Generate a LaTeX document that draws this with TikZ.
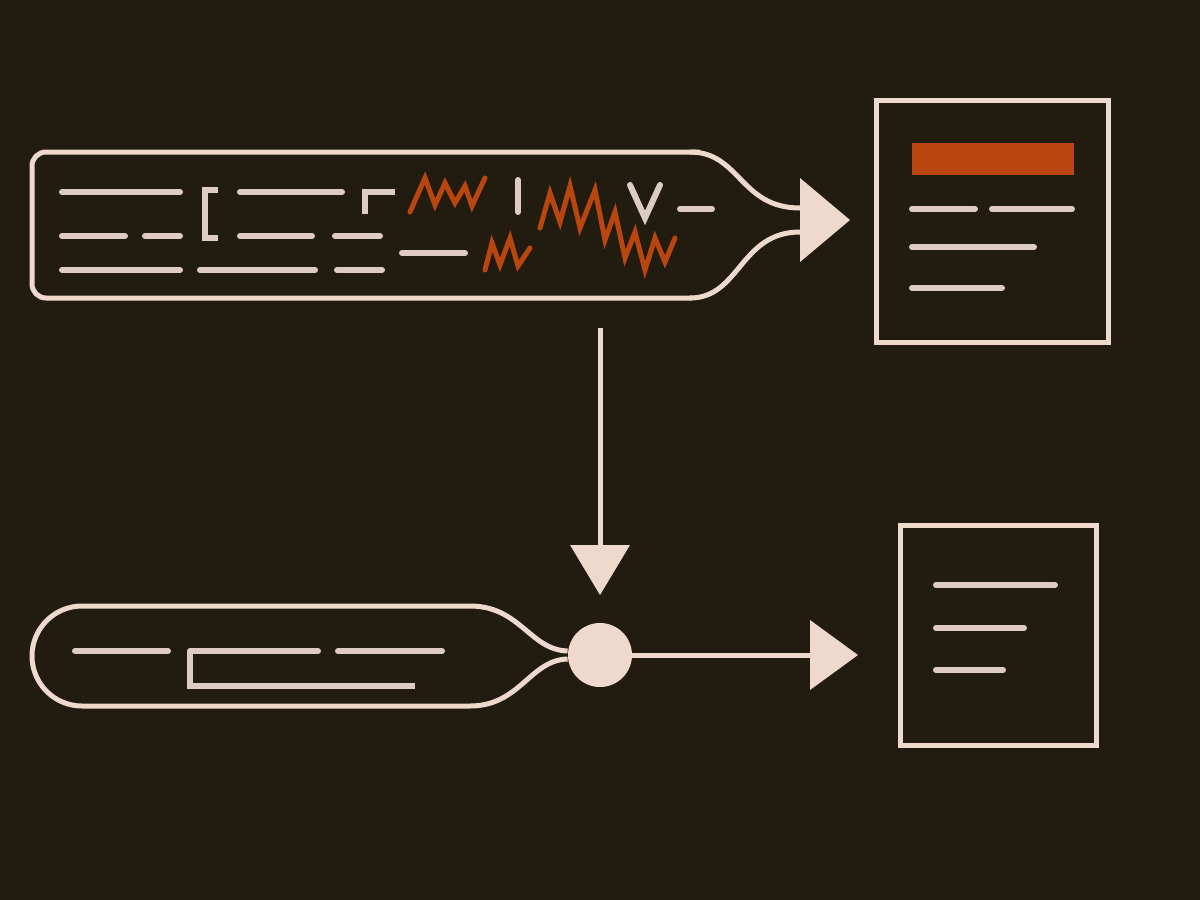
\documentclass[tikz,border=0pt]{standalone}
\usetikzlibrary{positioning}
\definecolor{bgc}{HTML}{211C0F}
\definecolor{pale}{HTML}{EFD8CC}
\definecolor{rust}{HTML}{B9460F}
\begin{document}
\begin{tikzpicture}[x=0.5pt,y=-0.5pt,
  outline/.style={pale,line width=2.5pt,line join=round},
  bar/.style={pale!85!gray,line width=3pt,line cap=round},
  zig/.style={rust,line width=2.5pt,line join=miter,line cap=round},
  tip/.style={pale,fill=pale}]
  \fill[bgc] (0,0) rectangle (1200,900);
  % top pipe
  \draw[outline,rounded corners=7pt] (700,152) -- (32,152) -- (32,298) -- (692,298);
  \draw[outline] (690,298) .. controls (740,298) and (740,232) .. (800,232);
  \draw[outline] (690,152) .. controls (740,152) and (740,208) .. (800,208);
  \coordinate (topin) at (800,220);
  \fill[tip] (800,178) -- (850,220) -- (800,262) -- cycle;
  % text lines in pipe
  \foreach \xa/\xb/\y in {62/180/192, 240/342/192, 62/125/236, 145/180/236, 240/312/236,
      335/380/236, 62/180/270, 200/315/270, 337/382/270, 402/465/253, 680/712/209}
    \draw[bar] (\xa,\y) -- (\xb,\y);
  \draw[bar,line cap=butt] (218,190) -- (205,190) -- (205,238) -- (218,238);
  \draw[bar,line cap=butt] (395,192) -- (365,192) -- (365,214);
  \draw[bar] (518,180) -- (518,212);
  \draw[bar] (630,185) -- (645,218) -- (660,185);
  \draw[zig] (410,212) -- (425,178) -- (435,205) -- (445,183) -- (455,203) -- (465,186)
    -- (472,206) -- (485,178);
  \draw[zig] (485,270) -- (492,243) -- (500,265) -- (510,238) -- (518,266) -- (530,248);
  \draw[zig] (540,228) -- (550,193) -- (560,222) -- (570,186) -- (580,228) -- (595,190)
    -- (605,240) -- (615,212) -- (625,258) -- (635,232) -- (645,270) -- (655,238)
    -- (665,262) -- (675,238);
  % output box top
  \node[draw=pale,line width=2.5pt,minimum width=116pt,minimum height=121pt,inner sep=0pt]
    (outA) at (992,221) {};
  \fill[rust] (912,143) rectangle (1074,175);
  \foreach \xa/\xb/\y in {912/975/209, 992/1072/209, 912/1034/247, 912/1002/288}
    \draw[bar] (\xa,\y) -- (\xb,\y);
  % down arrow
  \coordinate (dstart) at (600,328);
  \draw[pale,line width=2.5pt] (dstart) -- (600,548);
  \fill[tip] (570,545) -- (630,545) -- (600,595) -- cycle;
  % bottom pipe
  \node[circle,fill=pale,minimum size=32pt,inner sep=0pt] (mix) at (600,655) {};
  \draw[outline] ([yshift=2pt]mix.west) .. controls (530,650) and (520,606) .. (470,606) -- (82,606)
    arc[start angle=270,end angle=90,radius=50] -- (470,706)
    .. controls (520,706) and (530,660) .. ([yshift=-2pt]mix.west);
  \foreach \xa/\xb/\y in {75/168/651, 190/318/651, 338/442/651}
    \draw[bar] (\xa,\y) -- (\xb,\y);
  \draw[bar,line cap=butt] (190,651) -- (190,686) -- (415,686);
  \coordinate (outin) at (812,655);
  \draw[pale,line width=2.5pt] (mix) -- (outin);
  \fill[tip] (810,620) -- (858,655) -- (810,690) -- cycle;
  % output box bottom
  \node[draw=pale,line width=2.5pt,minimum width=98pt,minimum height=110pt,inner sep=0pt]
    (outB) at (998,635) {};
  \foreach \xa/\xb/\y in {936/1055/585, 936/1024/628, 936/1003/670}
    \draw[bar] (\xa,\y) -- (\xb,\y);
\end{tikzpicture}
\end{document}
